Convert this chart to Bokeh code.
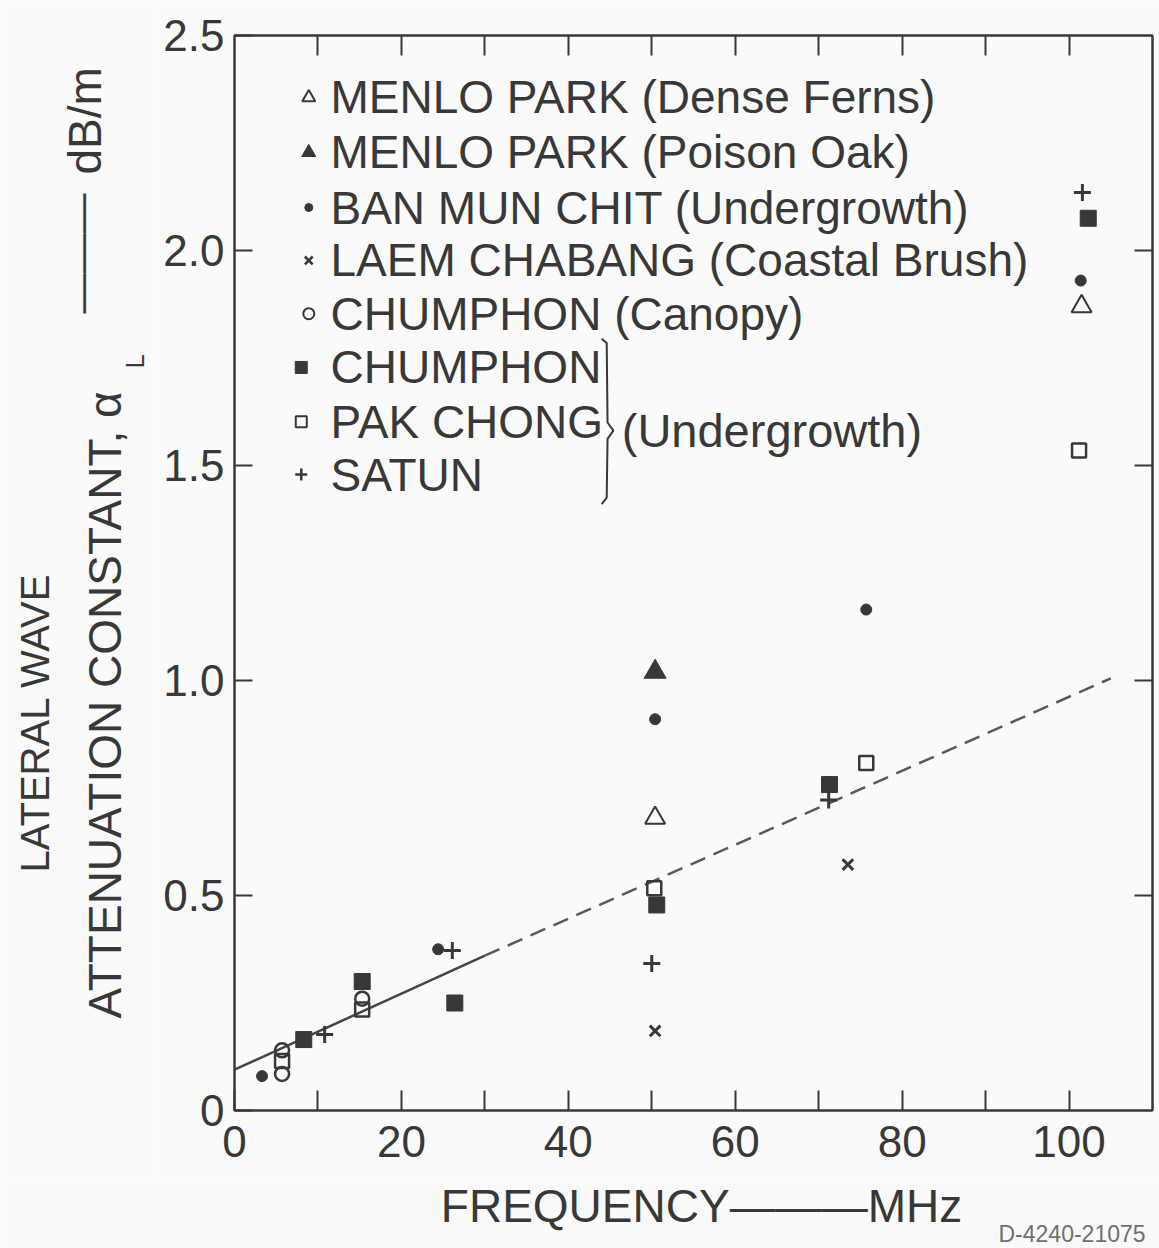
import math
from bokeh.plotting import figure
from bokeh.layouts import row, column
from bokeh.models import (Range1d, LinearAxis, FixedTicker, Label, CustomJSTickFormatter,
                          CustomLabelingPolicy)
from bokeh.embed import file_html
from bokeh.resources import INLINE
from bokeh.core.properties import value

# ---------------- data ----------------
menlo_ferns_x = [50.4, 101.5]          # open triangle
menlo_ferns_y = [0.68, 1.87]
menlo_oak_x = [50.4]                   # filled triangle
menlo_oak_y = [1.02]
ban_mun_chit_x = [3.3, 24.4, 50.4, 75.7, 101.4]   # dot
ban_mun_chit_y = [0.08, 0.375, 0.91, 1.165, 1.93]
laem_chabang_x = [50.4, 73.5]          # x
laem_chabang_y = [0.185, 0.572]
chumphon_canopy_x = [5.7, 5.7, 15.3]   # open circle
chumphon_canopy_y = [0.14, 0.085, 0.26]
chumphon_under_x = [8.3, 15.3, 26.4, 50.6, 71.3, 102.3]   # filled square
chumphon_under_y = [0.165, 0.30, 0.25, 0.478, 0.758, 2.075]
pak_chong_x = [5.7, 15.3, 50.3, 75.7, 101.2]     # open square
pak_chong_y = [0.115, 0.235, 0.517, 0.808, 1.535]
satun_x = [10.8, 26.1, 50.0, 71.2, 101.6]        # plus
satun_y = [0.177, 0.372, 0.342, 0.722, 2.135]

fit_solid_x = [0, 30]
fit_solid_y = [0.095, 0.36]
fit_dash_x = [30, 105]
fit_dash_y = [0.36, 1.005]

x_tick_labels = [0, 20, 40, 60, 80, 100]
x_minor = [10, 30, 50, 70, 90]
y_ticks = [0, 0.5, 1.0, 1.5, 2.0, 2.5]

legend_names = [
    "MENLO PARK (Dense Ferns)",
    "MENLO PARK (Poison Oak)",
    "BAN MUN CHIT (Undergrowth)",
    "LAEM CHABANG (Coastal Brush)",
    "CHUMPHON (Canopy)",
    "CHUMPHON",
    "PAK CHONG",
    "SATUN",
]
x_title = "FREQUENCY\u2014\u2014\u2014MHz"
y_title_1 = "LATERAL WAVE"
y_title_2 = "ATTENUATION CONSTANT, \u03b1"
y_title_sub = "L"
y_title_unit = "dB/m"
figure_id = "D-4240-21075"

# ---------------- styling ----------------
BG = "#fafafa"
INK = "#383838"
FONT = "Liberation Sans"
W, H = 1159, 1248
LEFT_W = 158          # width of the strip holding the y title
TOP_B, BOT_B, RIGHT_B = 35, 66, 7
MAIN_H = 1110 + BOT_B  # height of the main figure (frame bottom at page y 1110)
rot = math.pi / 2

no_labels = CustomLabelingPolicy(code="for (const i of indices) { indices.unset(i) } return indices")

# ---------------- main plot ----------------
p = figure(width=W - LEFT_W, height=MAIN_H, x_range=Range1d(0, 110), y_range=Range1d(0, 2.5),
           output_backend="svg", toolbar_location=None,
           min_border_left=234 - LEFT_W, min_border_right=RIGHT_B, min_border_top=TOP_B,
           min_border_bottom=BOT_B, background_fill_color=BG, border_fill_color=BG)
p.xgrid.visible = False
p.ygrid.visible = False
p.outline_line_color = INK
p.outline_line_width = 2

xa = p.xaxis[0]
xa.ticker = FixedTicker(ticks=x_tick_labels, minor_ticks=x_minor)
xa.major_tick_in = 20
xa.major_tick_out = 0
xa.minor_tick_in = 20
xa.minor_tick_out = 0
xa.major_tick_line_width = 2
xa.minor_tick_line_width = 2
xa.major_tick_line_color = INK
xa.minor_tick_line_color = INK
xa.axis_line_color = INK
xa.axis_line_width = 2
xa.major_label_text_font = FONT
xa.major_label_text_font_size = "44px"
xa.major_label_text_color = INK
xa.major_label_standoff = 15

ya = p.yaxis[0]
ya.ticker = FixedTicker(ticks=y_ticks, minor_ticks=[])
ya.formatter = CustomJSTickFormatter(code="return tick == 0 ? '0' : tick.toFixed(1)")
ya.major_tick_in = 18
ya.major_tick_out = 0
ya.major_tick_line_width = 2
ya.major_tick_line_color = INK
ya.axis_line_color = INK
ya.axis_line_width = 2
ya.major_label_text_font = FONT
ya.major_label_text_font_size = "44px"
ya.major_label_text_color = INK
ya.major_label_standoff = 10

top = LinearAxis(ticker=FixedTicker(ticks=x_minor + x_tick_labels[1:], minor_ticks=[]),
                 major_tick_in=20, major_tick_out=0, major_label_policy=no_labels,
                 major_label_text_font_size="1px", major_label_standoff=0,
                 axis_line_color=INK, axis_line_width=2,
                 major_tick_line_color=INK, major_tick_line_width=2)
p.add_layout(top, "above")
right = LinearAxis(ticker=FixedTicker(ticks=y_ticks[1:-1], minor_ticks=[]),
                   major_tick_in=18, major_tick_out=0, major_label_policy=no_labels,
                   major_label_text_font_size="1px", major_label_standoff=0,
                   axis_line_color=INK, axis_line_width=2,
                   major_tick_line_color=INK, major_tick_line_width=2)
p.add_layout(right, "right")

# fit line
p.line(fit_solid_x, fit_solid_y, line_color="#454545", line_width=2.5)
p.line(fit_dash_x, fit_dash_y, line_color="#5a5a5a", line_width=2.5, line_dash="16 9")

# data markers
p.scatter(menlo_ferns_x, menlo_ferns_y, marker="triangle", size=20, fill_color=None,
          line_color=INK, line_width=2)
p.scatter(menlo_oak_x, menlo_oak_y, marker="triangle", size=22, fill_color=INK, line_color=INK)
p.scatter(ban_mun_chit_x, ban_mun_chit_y, marker="circle", size=11, fill_color=INK, line_color=INK)
p.scatter(laem_chabang_x, laem_chabang_y, marker="x", size=15, line_color=INK, line_width=3)
p.scatter(chumphon_canopy_x, chumphon_canopy_y, marker="circle", size=14, fill_color=None,
          line_color=INK, line_width=2.5)
p.scatter(chumphon_under_x, chumphon_under_y, marker="square", size=16, fill_color=INK, line_color=INK)
p.scatter(pak_chong_x, pak_chong_y, marker="square", size=14, fill_color=None,
          line_color=INK, line_width=2.5)
p.scatter(satun_x, satun_y, marker="cross", size=17, line_color=INK, line_width=3)

# legend (drawn inside the plot like the original)
leg_mx = 8.9
leg_tx = 11.5
leg_y = [2.356, 2.228, 2.100, 1.977, 1.853, 1.728, 1.602, 1.479]
leg_style = [
    dict(marker="triangle", size=13, fill_color=None, line_color=INK, line_width=2),
    dict(marker="triangle", size=14, fill_color=INK, line_color=INK),
    dict(marker="circle", size=8, fill_color=INK, line_color=INK),
    dict(marker="x", size=11, line_color=INK, line_width=2.5),
    dict(marker="circle", size=11, fill_color=None, line_color=INK, line_width=2),
    dict(marker="square", size=12, fill_color=INK, line_color=INK),
    dict(marker="square", size=11, fill_color=None, line_color=INK, line_width=2),
    dict(marker="cross", size=12, line_color=INK, line_width=2.5),
]
for i, (name, yy, st) in enumerate(zip(legend_names, leg_y, leg_style)):
    p.scatter([leg_mx - (0.9 if i >= 5 else 0)], [yy], **st)
    p.add_layout(Label(x=leg_tx, y=yy, text=name, text_baseline="middle", text_align="left",
                       text_font=FONT, text_font_size="46px", text_color=INK))

# brace for the undergrowth group
p.multi_line([[44.0, 44.6, 44.7, 45.4, 44.7, 44.6, 44.0]],
             [[1.795, 1.785, 1.60, 1.581, 1.562, 1.425, 1.41]],
             line_color=INK, line_width=2)
p.add_layout(Label(x=46.4, y=1.581, text="(Undergrowth)", text_baseline="middle",
                   text_font=FONT, text_font_size="47px", text_color=INK))

# ---------------- left strip: rotated y title ----------------
# its frame is aligned with the main frame (y 35..1110 on the page);
# positions below are page pixels converted to this strip's frame
FR_H = MAIN_H - TOP_B - BOT_B
def sy(page_y):
    return (MAIN_H - BOT_B) - page_y

lf = figure(width=LEFT_W, height=MAIN_H, x_range=Range1d(0, LEFT_W), y_range=Range1d(0, FR_H),
            output_backend="svg", toolbar_location=None, x_axis_location=None, y_axis_location=None,
            min_border_left=0, min_border_right=0, min_border_top=TOP_B, min_border_bottom=BOT_B,
            background_fill_color=BG, border_fill_color=BG, outline_line_color=None)
lf.xgrid.visible = False
lf.ygrid.visible = False
common = dict(angle=rot, text_align="left", text_baseline="middle", text_color=INK,
              text_font=value(FONT))
lf.text(x=[34], y=[sy(872)], text=[y_title_1], text_font_size=value("40px"), **common)
lf.text(x=[104], y=[sy(1018)], text=[y_title_2], text_font_size=value("46px"), **common)
lf.text(x=[134], y=[sy(368)], text=[y_title_sub], text_font_size=value("26px"), **common)
lf.text(x=[80], y=[sy(313)], text=["\u2014\u2014\u2014"], text_font_size=value("40px"), **common)
lf.text(x=[84], y=[sy(174)], text=[y_title_unit], text_font_size=value("46px"), **common)

# ---------------- bottom strip: x title and figure id ----------------
BOT_H = H - MAIN_H
bf = figure(width=W, height=BOT_H, x_range=Range1d(0, W - RIGHT_B), y_range=Range1d(0, BOT_H),
            output_backend="svg", toolbar_location=None, x_axis_location=None, y_axis_location=None,
            min_border_left=0, min_border_right=RIGHT_B, min_border_top=0, min_border_bottom=0,
            background_fill_color=BG, border_fill_color=BG, outline_line_color=None)
bf.xgrid.visible = False
bf.ygrid.visible = False
bf.text(x=[701], y=[H - 1205], text=[x_title], text_align="center", text_baseline="middle",
        text_font=value(FONT), text_font_size=value("46px"), text_color=INK)
bf.text(x=[998], y=[H - 1233], text=[figure_id], text_align="left", text_baseline="middle",
        text_font=value(FONT), text_font_size=value("23px"), text_color="#707070")

layout = column(row(lf, p), bf)
open("out.html", "w").write(file_html(layout, INLINE))
